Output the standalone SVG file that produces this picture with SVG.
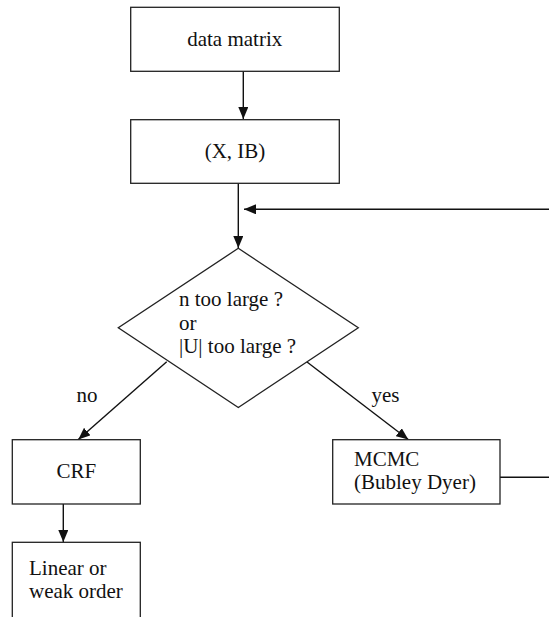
<svg xmlns="http://www.w3.org/2000/svg" width="549" height="617" viewBox="0 0 549 617">
<style>
.box{fill:#fff;stroke:#222;stroke-width:1.3}
.ln{fill:none;stroke:#111;stroke-width:1.4}
</style>
<defs>
<marker id="ah" markerWidth="12" markerHeight="10" refX="12" refY="5" orient="auto" markerUnits="userSpaceOnUse">
<path d="M0,0 L12,5 L0,10 Z" fill="#111"/>
</marker>
</defs>
<rect width="549" height="617" fill="#fff"/>
<g id="connectors">
<line class="ln" x1="243.3" y1="71.3" x2="243.3" y2="119" marker-end="url(#ah)"/>
<line class="ln" x1="238.3" y1="183.3" x2="238.3" y2="248" marker-end="url(#ah)"/>
<line class="ln" x1="549" y1="209.3" x2="244" y2="209.3" marker-end="url(#ah)"/>
<line class="ln" x1="166.7" y1="361.7" x2="78.3" y2="439.5" marker-end="url(#ah)"/>
<line class="ln" x1="306.7" y1="361.7" x2="408.3" y2="439.5" marker-end="url(#ah)"/>
<line class="ln" x1="63.3" y1="504" x2="63.3" y2="542" marker-end="url(#ah)"/>
<line class="ln" x1="500" y1="477.3" x2="549" y2="477.3"/>
<text x="87" y="401.7" text-anchor="middle" font-family="Liberation Serif" font-size="21" fill="#111">no</text>
<text x="385.5" y="401.7" text-anchor="middle" font-family="Liberation Serif" font-size="21" fill="#111">yes</text>
</g>
<g id="data-matrix">
<rect class="box" x="130.7" y="7.3" width="208.6" height="64"/>
<text x="234.7" y="45.7" text-anchor="middle" font-family="Liberation Serif" font-size="21" fill="#111">data matrix</text>
</g>
<g id="x-ib">
<rect class="box" x="130.7" y="119.7" width="208.6" height="63.6"/>
<text x="235" y="158" text-anchor="middle" font-family="Liberation Serif" font-size="21" fill="#111">(X, IB)</text>
</g>
<g id="decision">
<polygon class="box" points="238.3,248.3 358.3,327.7 238.3,407.5 118.3,327.7"/>
<text x="179" y="306" font-family="Liberation Serif" font-size="21" fill="#111">n too large ?</text>
<text x="179" y="330" font-family="Liberation Serif" font-size="21" fill="#111">or</text>
<text x="179" y="353.3" font-family="Liberation Serif" font-size="21" fill="#111">|U| too large ?</text>
</g>
<g id="crf">
<rect class="box" x="12.3" y="439.7" width="128" height="64.3"/>
<text x="76.3" y="478.3" text-anchor="middle" font-family="Liberation Serif" font-size="21" fill="#111">CRF</text>
</g>
<g id="mcmc">
<rect class="box" x="332.7" y="439.7" width="167.3" height="64.3"/>
<text x="354" y="466" font-family="Liberation Serif" font-size="21" fill="#111">MCMC</text>
<text x="354" y="489.3" font-family="Liberation Serif" font-size="21" fill="#111">(Bubley Dyer)</text>
</g>
<g id="order">
<rect class="box" x="12.3" y="542.3" width="128" height="90"/>
<text x="29" y="575" font-family="Liberation Serif" font-size="21" fill="#111">Linear or</text>
<text x="29" y="598.3" font-family="Liberation Serif" font-size="21" fill="#111">weak order</text>
</g>
</svg>
